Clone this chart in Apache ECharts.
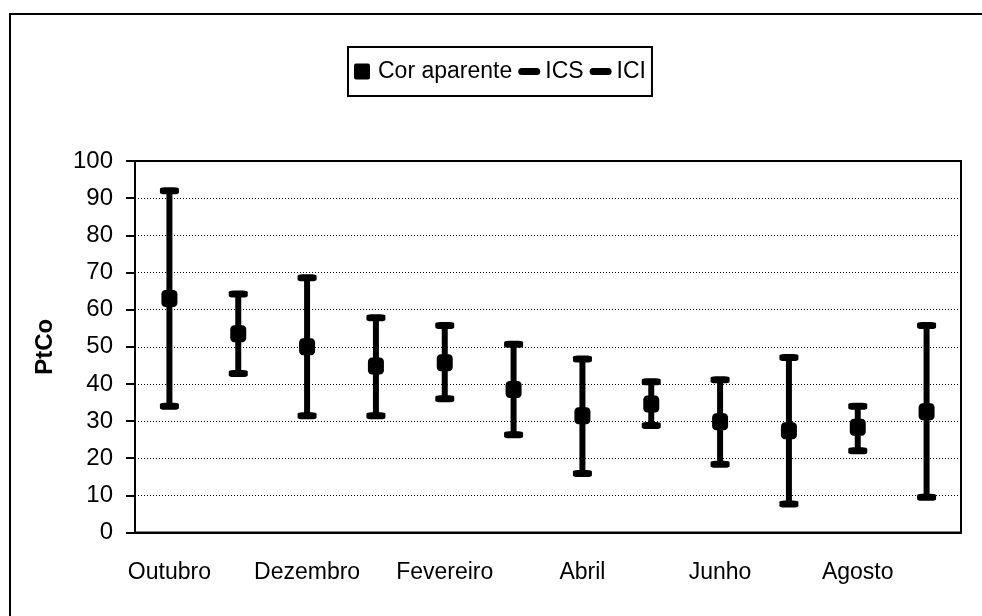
<!DOCTYPE html>
<html>
<head>
<meta charset="utf-8">
<script src="https://cdn.jsdelivr.net/npm/echarts@6/dist/echarts.min.js"></script>
<style>
  html, body { margin: 0; padding: 0; background: #fff; }
  #chart { width: 982px; height: 616px; }
</style>
</head>
<body>
<div id="chart"></div>
<script>
// Monthly apparent colour (PtCo) with upper/lower confidence limits
const months = ['Outubro', 'Novembro', 'Dezembro', 'Janeiro', 'Fevereiro', 'Março',
                'Abril', 'Maio', 'Junho', 'Julho', 'Agosto', 'Setembro'];
const corAparente = [63, 53.5, 50, 44.8, 45.7, 38.5, 31.4, 34.6, 29.8, 27.4, 28.3, 32.5];
const ics = [92, 64.2, 68.6, 57.8, 55.7, 50.7, 46.7, 40.6, 41.1, 47.1, 34, 55.7];
const ici = [34, 42.8, 31.4, 31.4, 36, 26.3, 15.9, 28.8, 18.4, 7.7, 22, 9.5];
const yTicks = { min: 0, max: 100, step: 10 };

const FONT = "'Liberation Sans', Arial, sans-serif";
const dashIcon = 'path://M3.5,0 H18.5 A3.5,3.5 0 0 1 18.5,7 H3.5 A3.5,3.5 0 0 1 3.5,0 Z';
const squareIcon = 'path://M2,0 H14 A2,2 0 0 1 16,2 V14 A2,2 0 0 1 14,16 H2 A2,2 0 0 1 0,14 V2 A2,2 0 0 1 2,0 Z';

const chart = echarts.init(document.getElementById('chart'), null, { renderer: 'canvas' });

chart.setOption({
  backgroundColor: '#fff',
  animation: false,
  textStyle: { fontFamily: FONT, color: '#000' },
  graphic: [{
    type: 'rect',
    shape: { x: 10, y: 14, width: 1000, height: 700 },
    style: { fill: 'none', stroke: '#000', lineWidth: 2 },
    silent: true, z: -10
  }],
  legend: {
    left: 348, top: 47,
    padding: [13, 6, 13, 6],
    itemGap: 6,
    itemWidth: 22, itemHeight: 16,
    borderColor: '#000', borderWidth: 2,
    textStyle: { fontFamily: FONT, fontSize: 23, color: '#000' },
    data: [
      { name: 'Cor aparente', icon: squareIcon },
      { name: 'ICS', icon: dashIcon },
      { name: 'ICI', icon: dashIcon }
    ]
  },
  grid: {
    left: 135, right: 21, top: 161, bottom: 83.5,
    show: true, borderColor: '#000', borderWidth: 2
  },
  xAxis: [{
    type: 'category',
    data: months,
    boundaryGap: true,
    axisLine: { lineStyle: { color: '#000', width: 2 } },
    axisTick: { interval: 0, length: 8, lineStyle: { color: '#000', width: 2 } },
    axisLabel: { interval: 1, margin: 29, fontSize: 23, color: '#000', fontFamily: FONT }
  }, {
    type: 'category',
    data: months,
    position: 'bottom',
    boundaryGap: true,
    axisLine: { show: false },
    axisTick: { interval: 0, inside: true, length: 8, lineStyle: { color: '#000', width: 2 } },
    axisLabel: { show: false }
  }],
  yAxis: {
    type: 'value',
    min: yTicks.min, max: yTicks.max, interval: yTicks.step,
    name: 'PtCo',
    nameLocation: 'middle',
    nameGap: 78,
    nameTextStyle: { fontFamily: FONT, fontSize: 24, fontWeight: 'bold', color: '#000' },
    axisLine: { show: true, lineStyle: { color: '#000', width: 2 } },
    axisTick: { show: true, length: 9, lineStyle: { color: '#000', width: 2 } },
    axisLabel: { margin: 22, fontSize: 24, color: '#000', fontFamily: FONT },
    splitLine: { show: true, lineStyle: { color: '#000', width: 1, type: [1, 2] } }
  },
  series: [
    {
      // high-low line joining the limits of each month
      name: 'range',
      type: 'custom',
      data: months.map((m, i) => [i, ici[i], ics[i]]),
      renderItem: function (params, api) {
        const lo = api.coord([api.value(0), api.value(1)]);
        const hi = api.coord([api.value(0), api.value(2)]);
        return {
          type: 'line',
          shape: { x1: lo[0], y1: lo[1], x2: hi[0], y2: hi[1] },
          style: { stroke: '#000', lineWidth: 6 }
        };
      },
      z: 1
    },
    {
      name: 'ICS', type: 'scatter',
      data: ics,
      symbol: 'roundRect', symbolSize: [19, 7],
      itemStyle: { color: '#000', opacity: 1 }, z: 3
    },
    {
      name: 'ICI', type: 'scatter',
      data: ici,
      symbol: 'roundRect', symbolSize: [19, 7],
      itemStyle: { color: '#000', opacity: 1 }, z: 3
    },
    {
      name: 'Cor aparente', type: 'scatter',
      data: corAparente,
      symbol: 'roundRect', symbolSize: [16, 17],
      itemStyle: { color: '#000', opacity: 1 }, z: 4
    }
  ]
});
</script>
</body>
</html>
